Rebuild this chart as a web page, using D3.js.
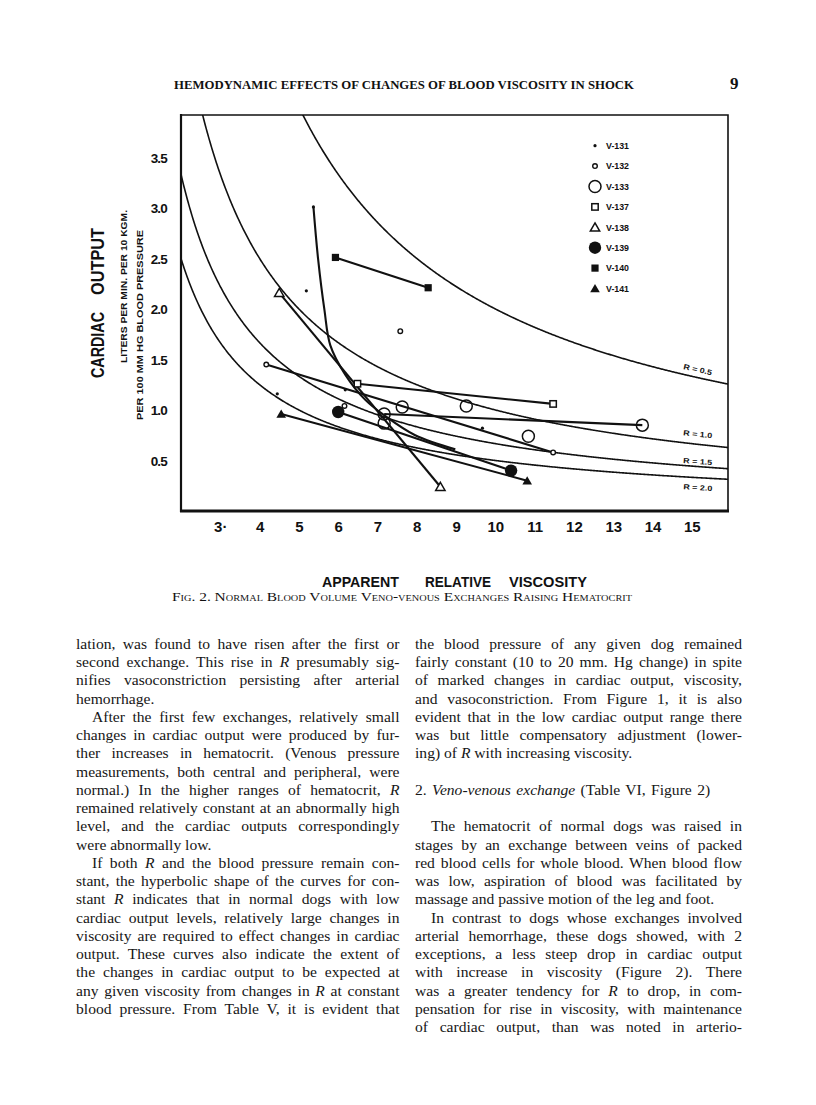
<!DOCTYPE html>
<html><head><meta charset="utf-8">
<script src="https://cdn.jsdelivr.net/npm/d3@7"></script>
<style>
body{margin:0;background:#fff;}
#page{position:relative;width:816px;height:1105px;overflow:hidden;background:#fff;}
#chart{position:absolute;left:0;top:0;}
.ln{position:absolute;height:18.25px;line-height:18.25px;font-family:"Liberation Serif","Times New Roman",serif;font-size:15.6px;color:#161616;white-space:nowrap;}
.ln span{white-space:nowrap;}
</style></head><body><div id="page"><svg id="chart" width="816" height="1105"></svg></div>
<script>
// ---------- data ----------
const xTicks = [3,4,5,6,7,8,9,10,11,12,13,14,15];
const xTickLabels = ["3·","4","5","6","7","8","9","10","11","12","13","14","15"];
const yTicks = [0.5,1.0,1.5,2.0,2.5,3.0,3.5];
const yTickLabels = ["0.5","1.0","1.5","2.0","2.5","3.0","3.5"];
const rValues = [0.5,1.0,1.5,2.0];
const rLabels = ["R = 0.5","R = 1.0","R = 1.5","R = 2.0"];
const legendNames = ["V-131","V-132","V-133","V-137","V-138","V-139","V-140","V-141"];

// [apparent relative viscosity, cardiac output]
const v131Curve = [[5.37,3.01],[5.49,2.49],[5.65,1.99],[5.80,1.64],[6.18,1.35],[6.69,1.10],[7.20,0.94],[7.96,0.75],[8.98,0.61]];
const v131Dots  = [[5.37,3.01],[5.19,2.18],[4.45,1.16],[6.18,1.20],[9.67,0.82]];
const v132Line  = [[4.17,1.45],[11.47,0.58]];
const v132Dots  = [[4.17,1.45],[11.47,0.58],[7.58,1.78],[6.16,1.04]];
const v133Line  = [[7.17,0.96],[13.74,0.85]];
const v133Dots  = [[7.17,0.96],[13.74,0.85],[7.17,0.87],[7.63,1.03],[9.26,1.04],[10.84,0.74]];
const v137Line  = [[6.49,1.26],[11.47,1.06]];
const v138Line  = [[4.50,2.16],[8.60,0.24]];
const v139Line  = [[6.00,0.98],[10.40,0.40]];
const v140Line  = [[5.93,2.51],[8.29,2.21]];
const v141Line  = [[4.55,0.96],[10.81,0.30]];

const leftLines = [
 {t:"lation, was found to have risen after the first or"},
 {t:"second exchange.  This rise in <i>R</i> presumably sig-"},
 {t:"nifies vasoconstriction persisting after arterial"},
 {t:"hemorrhage.", last:true},
 {t:"After the first few exchanges, relatively small", ind:true},
 {t:"changes in cardiac output were produced by fur-"},
 {t:"ther increases in hematocrit.  (Venous pressure"},
 {t:"measurements, both central and peripheral, were"},
 {t:"normal.)  In the higher ranges of hematocrit, <i>R</i>"},
 {t:"remained relatively constant at an abnormally high"},
 {t:"level, and the cardiac outputs correspondingly"},
 {t:"were abnormally low.", last:true},
 {t:"If both <i>R</i> and the blood pressure remain con-", ind:true},
 {t:"stant, the hyperbolic shape of the curves for con-"},
 {t:"stant <i>R</i> indicates that in normal dogs with low"},
 {t:"cardiac output levels, relatively large changes in"},
 {t:"viscosity are required to effect changes in cardiac"},
 {t:"output.  These curves also indicate the extent of"},
 {t:"the changes in cardiac output to be expected at"},
 {t:"any given viscosity from changes in <i>R</i> at constant"},
 {t:"blood pressure.  From Table V, it is evident that"}
];
const rightLines = [
 {t:"the blood pressure of any given dog remained"},
 {t:"fairly constant (10 to 20 mm. Hg change) in spite"},
 {t:"of marked changes in cardiac output, viscosity,"},
 {t:"and vasoconstriction.  From Figure 1, it is also"},
 {t:"evident that in the low cardiac output range there"},
 {t:"was but little compensatory adjustment (lower-"},
 {t:"ing) of <i>R</i> with increasing viscosity.", last:true},
 null,
 {t:"2.  <i>Veno-venous exchange</i> (Table VI, Figure 2)", last:true, head:true},
 null,
 {t:"The hematocrit of normal dogs was raised in", ind:true},
 {t:"stages by an exchange between veins of packed"},
 {t:"red blood cells for whole blood.  When blood flow"},
 {t:"was low, aspiration of blood was facilitated by"},
 {t:"massage and passive motion of the leg and foot.", last:true},
 {t:"In contrast to dogs whose exchanges involved", ind:true},
 {t:"arterial hemorrhage, these dogs showed, with 2"},
 {t:"exceptions, a less steep drop in cardiac output"},
 {t:"with increase in viscosity (Figure 2).  There"},
 {t:"was a greater tendency for <i>R</i> to drop, in com-"},
 {t:"pensation for rise in viscosity, with maintenance"},
 {t:"of cardiac output, than was noted in arterio-"}
];

// ---------- drawing ----------
const svg = d3.select("#chart");
const L = 181, R = 728, T = 115, B = 511;
const x = d3.scaleLinear().domain([2.0, 15.92]).range([L, R]);
const y = d3.scaleLinear().domain([0, 3.92]).range([B, T]);
const ink = "#111";
const sans = "'Liberation Sans', Arial, sans-serif";
const serif = "'Liberation Serif', 'Times New Roman', serif";

svg.append("defs").append("clipPath").attr("id","clip")
  .append("rect").attr("x",L).attr("y",T).attr("width",R-L).attr("height",B-T);

// header
svg.append("text").attr("x",174).attr("y",89).attr("font-family",serif).attr("font-weight","bold")
  .attr("font-size",11.5).attr("fill",ink).attr("textLength",460).attr("lengthAdjust","spacingAndGlyphs")
  .text("HEMODYNAMIC EFFECTS OF CHANGES OF BLOOD VISCOSITY IN SHOCK");
svg.append("text").attr("x",730).attr("y",89).attr("font-family",serif).attr("font-weight","bold")
  .attr("font-size",17).attr("fill",ink).text("9");

// reference hyperbolas R
const etaGrid = d3.range(2.0, 15.95, 0.02);
const curveLine = d3.line().x(d=>x(d[0])).y(d=>y(d[1]));
const gc = svg.append("g").attr("clip-path","url(#clip)");
rValues.forEach(r=>{
  const pts = etaGrid.map(e=>[e, 10/(r*e)]);
  gc.append("path").attr("d",curveLine(pts)).attr("fill","none").attr("stroke",ink).attr("stroke-width",1.6);
});
const labelOffsets = [-8,-10,-5,10];
rValues.forEach((r,i)=>{
  const e = 15.15;
  const px = x(e), py = y(10/(r*e));
  const ang = Math.atan2(y(10/(r*(e+0.2))) - y(10/(r*e)), x(e+0.2)-x(e))*180/Math.PI;
  svg.append("text").attr("transform",`translate(${px},${py+labelOffsets[i]}) rotate(${ang})`)
    .attr("text-anchor","middle").attr("dominant-baseline","central")
    .attr("font-family",sans).attr("font-weight","bold").attr("font-size",7.5).attr("fill",ink)
    .attr("textLength",29).attr("lengthAdjust","spacingAndGlyphs").text(rLabels[i]);
});

// data lines
const gd = svg.append("g").attr("clip-path","url(#clip)");
const straight = d3.line().x(d=>x(d[0])).y(d=>y(d[1]));
const smooth = d3.line().x(d=>x(d[0])).y(d=>y(d[1])).curve(d3.curveCatmullRom.alpha(0.5));
[v132Line,v133Line,v137Line,v138Line,v139Line,v140Line,v141Line].forEach(ln=>{
  gd.append("path").attr("d",straight(ln)).attr("fill","none").attr("stroke",ink).attr("stroke-width",2.1);
});
gd.append("path").attr("d",smooth(v131Curve)).attr("fill","none").attr("stroke",ink).attr("stroke-width",2.1);

// markers
function marker(g, type, cx, cy){
  switch(type){
    case "V-131": g.append("circle").attr("cx",cx).attr("cy",cy).attr("r",1.6).attr("fill",ink); break;
    case "V-132": g.append("circle").attr("cx",cx).attr("cy",cy).attr("r",2.3).attr("fill","#fff").attr("stroke",ink).attr("stroke-width",1.4); break;
    case "V-133": g.append("circle").attr("cx",cx).attr("cy",cy).attr("r",6).attr("fill","none").attr("stroke",ink).attr("stroke-width",1.5); break;
    case "V-137": g.append("rect").attr("x",cx-3.2).attr("y",cy-3.2).attr("width",6.4).attr("height",6.4).attr("fill","#fff").attr("stroke",ink).attr("stroke-width",1.5); break;
    case "V-138": g.append("path").attr("transform",`translate(${cx},${cy+1})`).attr("d",d3.symbol(d3.symbolTriangle,38)()).attr("fill","#fff").attr("stroke",ink).attr("stroke-width",1.5); break;
    case "V-139": g.append("circle").attr("cx",cx).attr("cy",cy).attr("r",6.2).attr("fill",ink); break;
    case "V-140": g.append("rect").attr("x",cx-3.6).attr("y",cy-3.6).attr("width",7.2).attr("height",7.2).attr("fill",ink); break;
    case "V-141": g.append("path").attr("transform",`translate(${cx},${cy+1})`).attr("d",d3.symbol(d3.symbolTriangle,40)()).attr("fill",ink); break;
  }
}
const gm = svg.append("g");
const markerSets = [["V-131",v131Dots],["V-132",v132Dots],["V-133",v133Dots],["V-137",v137Line],["V-138",v138Line],["V-139",v139Line],["V-140",v140Line],["V-141",v141Line]];
markerSets.forEach(([nm,pts])=>pts.forEach(p=>marker(gm,nm,x(p[0]),y(p[1]))));

// legend
const lg = svg.append("g");
legendNames.forEach((nm,i)=>{
  const ly = 145.7 + i*20.4;
  marker(lg, nm, 595, ly);
  lg.append("text").attr("x",606).attr("y",ly+3.2).attr("font-family",sans).attr("font-weight","bold")
    .attr("font-size",8.5).attr("fill",ink).attr("textLength",23).attr("lengthAdjust","spacingAndGlyphs").text(nm);
});

// frame
svg.append("path").attr("d",`M${L},${T}H${R}V${B}`).attr("fill","none").attr("stroke",ink).attr("stroke-width",1.6);
svg.append("line").attr("x1",L).attr("x2",L).attr("y1",T-1).attr("y2",B+1).attr("stroke",ink).attr("stroke-width",2.2);
svg.append("line").attr("x1",L-1).attr("x2",R+1).attr("y1",B).attr("y2",B).attr("stroke",ink).attr("stroke-width",3);

// axes (labels only)
const xAxis = d3.axisBottom(x).tickValues(xTicks).tickSize(0).tickFormat((d,i)=>xTickLabels[i]);
const gx = svg.append("g").attr("transform",`translate(0,${B})`).call(xAxis);
gx.select(".domain").remove();
gx.selectAll("text").attr("y",0).attr("dy",null).attr("transform","translate(0,21)")
  .attr("font-family",sans).attr("font-weight","bold").attr("font-size",15).attr("fill",ink);
const yAxis = d3.axisLeft(y).tickValues(yTicks).tickSize(0).tickFormat((d,i)=>yTickLabels[i]);
const gy = svg.append("g").attr("transform",`translate(167,0)`).call(yAxis);
gy.select(".domain").remove();
gy.selectAll("text").attr("x",0).attr("dy","0.36em")
  .attr("font-family",sans).attr("font-weight","bold").attr("font-size",13.5).attr("letter-spacing",-0.8).attr("fill",ink);

// axis titles
function vtext(bx, y0, len, size, str){
  svg.append("text").attr("transform",`translate(${bx},${y0}) rotate(-90)`)
    .attr("font-family",sans).attr("font-weight","bold").attr("font-size",size).attr("fill",ink)
    .attr("textLength",len).attr("lengthAdjust","spacingAndGlyphs").text(str);
}
vtext(103.5, 378, 66, 18, "CARDIAC");
vtext(103.5, 295, 67, 18, "OUTPUT");
vtext(126.5, 363, 153, 9.5, "LITERS  PER  MIN.  PER  10  KGM.");
vtext(143, 420, 190, 9.5, "PER  100  MM  HG  BLOOD  PRESSURE");

function htext(x0, len, str){
  svg.append("text").attr("x",x0).attr("y",587).attr("font-family",sans).attr("font-weight","bold")
    .attr("font-size",15).attr("fill",ink).attr("textLength",len).attr("lengthAdjust","spacingAndGlyphs").text(str);
}
htext(322, 77, "APPARENT");
htext(425, 66, "RELATIVE");
htext(509, 78, "VISCOSITY");

// caption
svg.append("text").attr("x",172).attr("y",601).attr("font-family",serif).attr("font-size",13.5)
  .attr("font-variant","small-caps").attr("fill",ink).attr("textLength",460).attr("lengthAdjust","spacingAndGlyphs")
  .text("Fig. 2.  Normal Blood Volume Veno-venous Exchanges Raising Hematocrit");

// body text (each line justified by computed word spacing)
const page = document.getElementById("page");
function column(lines, left, width){
  lines.forEach((l,i)=>{
    if(!l) return;
    const d = document.createElement("div");
    d.className = "ln";
    const ind = l.ind ? 16 : 0;
    d.style.left = (left+ind)+"px";
    d.style.top = (634.8 + i*18.25)+"px";
    const s = document.createElement("span");
    s.innerHTML = l.t.replace(/  /g," ");
    d.appendChild(s);
    page.appendChild(d);
    if(!l.last){
      const natural = s.getBoundingClientRect().width;
      const spaces = (s.textContent.match(/ /g)||[]).length;
      if(spaces>0){
        s.style.wordSpacing = ((width-ind-natural)/spaces)+"px";
      }
    } else if(l.head){
      s.style.wordSpacing = "1.5px";
    }
  });
}
column(leftLines, 76, 323.5);
column(rightLines, 415, 327);
</script></body></html>
